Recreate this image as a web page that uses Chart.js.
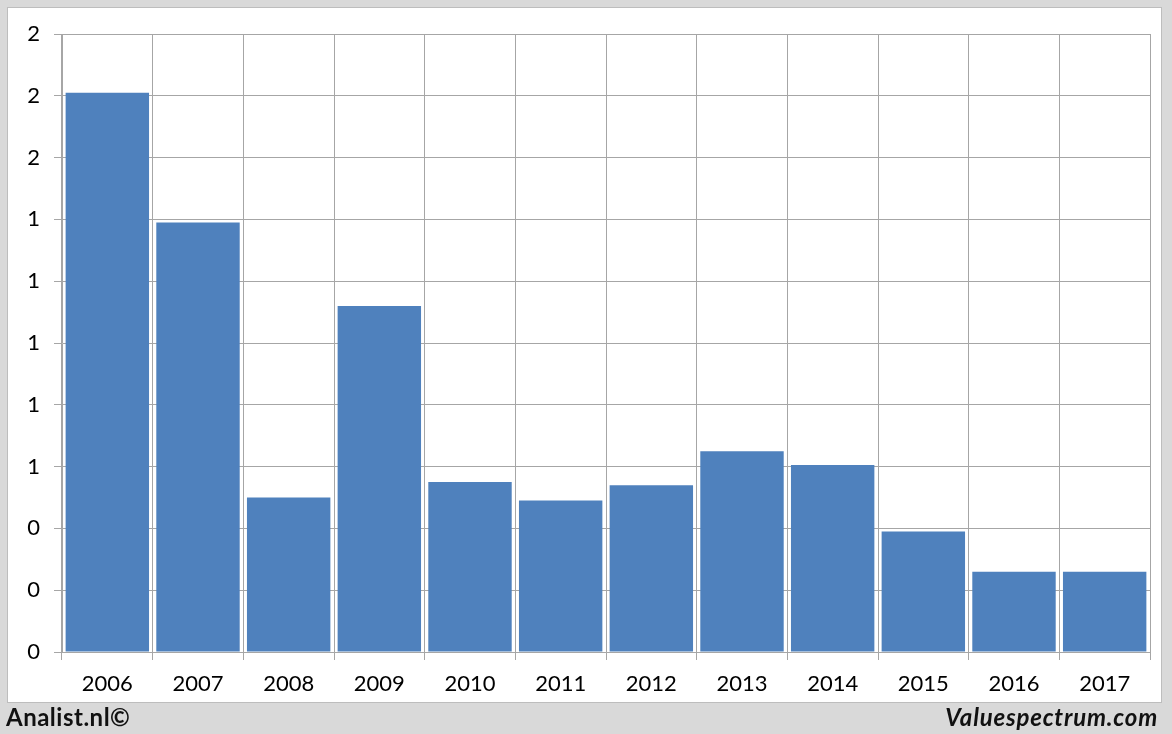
<!DOCTYPE html>
<html><head><meta charset="utf-8">
<script src="https://cdn.jsdelivr.net/npm/chart.js@4/dist/chart.umd.min.js"></script>
<style>
html,body{margin:0;padding:0;background:#d9d9d9;width:1172px;height:734px;overflow:hidden;font-family:Lato,"Open Sans",sans-serif;}
#panel{position:absolute;left:7px;top:7px;width:1155px;height:696px;background:#fff;border:1px solid #bdbdbd;box-sizing:border-box;}
#wrap{position:absolute;left:0;top:0;width:1172px;height:734px;}
.foot{position:absolute;top:702px;font-size:24px;font-weight:bold;color:#111;line-height:30px;}
#l{left:6px;letter-spacing:0.5px;}
#r{right:14px;font-style:italic;letter-spacing:0.8px;}
</style></head>
<body>
<div id="panel"></div>
<div id="wrap"><canvas id="c" width="1172" height="734"></canvas></div>
<div class="foot" id="l">Analist.nl©</div>
<div class="foot" id="r">Valuespectrum.com</div>
<script>
const categories = ["2006","2007","2008","2009","2010","2011","2012","2013","2014","2015","2016","2017"];
const values = [1.81, 1.39, 0.50, 1.12, 0.55, 0.49, 0.54, 0.65, 0.605, 0.39, 0.26, 0.26];
const yMin = 0, yMax = 2, yStep = 0.2;

new Chart(document.getElementById('c'), {
  type: 'bar',
  data: { labels: categories, datasets: [{ data: values, backgroundColor: '#4f81bd', borderWidth: 0, barPercentage: 0.92, categoryPercentage: 1.0 }] },
  options: {
    responsive: false, animation: false,
    layout: { padding: { left: 0, top: 34, right: 22, bottom: 22 } },
    plugins: { legend: { display: false }, tooltip: { enabled: false } },
    scales: {
      x: {
        offset: true,
        grid: { offset: true, color: '#a6a6a6', lineWidth: 1, tickLength: 8, drawTicks: true },
        border: { color: '#a6a6a6' },
        ticks: { color: '#000', font: { family: 'Lato, "Open Sans", sans-serif', size: 22 }, padding: 11, maxRotation: 0 },
        afterFit: s => { s.height = 60; }
      },
      y: {
        min: yMin, max: yMax,
        grid: { color: '#a6a6a6', lineWidth: 1, tickLength: 8 },
        border: { color: '#a6a6a6' },
        ticks: { stepSize: yStep, color: '#000', font: { family: 'Lato, "Open Sans", sans-serif', size: 22 }, padding: 14, callback: v => String(Math.round(v)) },
        afterFit: s => { s.width = 62; }
      }
    }
  }
});
</script>
</body></html>
